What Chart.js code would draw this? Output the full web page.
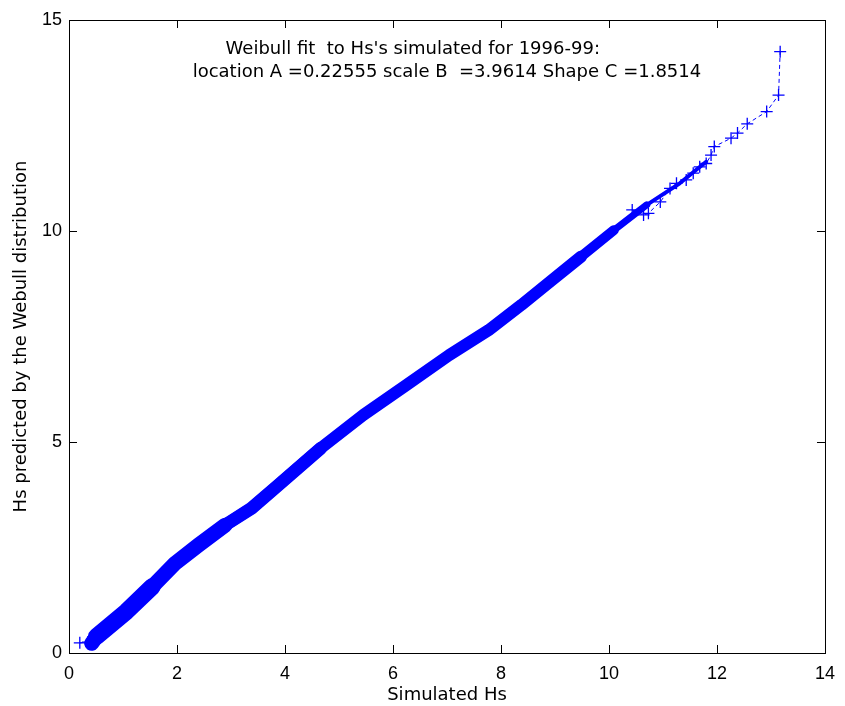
<!DOCTYPE html>
<html>
<head>
<meta charset="utf-8">
<script src="https://cdn.jsdelivr.net/npm/chart.js@4/dist/chart.umd.min.js"></script>
<style>
  body { margin: 0; background: #fff; }
</style>
</head>
<body>
<canvas id="qq" width="845" height="706"></canvas>
<script>
// values
const bandX = [0.42, 0.51, 1.06, 1.54, 1.97, 2.40, 2.89, 3.38, 3.85, 4.66, 5.45, 6.25, 7.04, 7.77, 8.38, 8.87, 9.48, 10.09, 10.70, 11.31, 11.80];
const bandY = [0.23, 0.39, 0.98, 1.57, 2.13, 2.56, 3.03, 3.43, 3.95, 4.85, 5.64, 6.35, 7.06, 7.65, 8.25, 8.76, 9.39, 10.02, 10.62, 11.13, 11.64];
const headX = [0.20, 0.35, 0.90];
const headY = [0.24, 0.26, 0.98];
const tailX = [10.43, 10.64, 10.73, 10.95, 11.13, 11.25, 11.43, 11.56, 11.68, 11.80, 11.89, 11.95, 12.26, 12.38, 12.56, 12.92, 13.14, 13.17];
const tailY = [10.50, 10.38, 10.42, 10.69, 11.01, 11.13, 11.21, 11.37, 11.52, 11.60, 11.80, 12.00, 12.20, 12.32, 12.54, 12.83, 13.22, 14.25];
const xTicks = [0, 2, 4, 6, 8, 10, 12, 14];
const yTicks = [0, 5, 10, 15];
const noteLines = ["Weibull fit  to Hs's simulated for 1996-99:", "location A =0.22555 scale B  =3.9614 Shape C =1.8514"];

const TICKFONT = "'Liberation Sans', Arial, sans-serif";
const FONT = "'DejaVu Sans', sans-serif";
const BLUE = "#0000ff";

function pts(xs, ys, from, to) {
    let out = [];
    xs.forEach(function (v, i) {
        if (v >= from && v <= to) out.push({ x: v, y: ys[i] });
    });
    return out;
}

// the dense part of the curve is drawn as a thick stroke that narrows towards the top
function band(from, to, width) {
    return {
        data: pts(bandX, bandY, from, to),
        showLine: true, borderColor: BLUE, borderWidth: width,
        borderCapStyle: 'round', borderJoinStyle: 'round',
        pointRadius: 0
    };
}

// box, inward ticks and the fit note
const frame = {
    id: 'frame',
    afterDraw(chart) {
        const { ctx, chartArea: a, scales: { x, y } } = chart;
        ctx.save();
        ctx.strokeStyle = "#000";
        ctx.lineWidth = 1;
        ctx.strokeRect(a.left + 0.5, a.top + 0.5, a.width, a.height);
        ctx.beginPath();
        xTicks.forEach(function (t) {
            const p = Math.round(x.getPixelForValue(t)) + 0.5;
            ctx.moveTo(p, a.bottom); ctx.lineTo(p, a.bottom - 8);
            ctx.moveTo(p, a.top); ctx.lineTo(p, a.top + 8);
        });
        yTicks.forEach(function (t) {
            const p = Math.round(y.getPixelForValue(t)) + 0.5;
            ctx.moveTo(a.left, p); ctx.lineTo(a.left + 8, p);
            ctx.moveTo(a.right, p); ctx.lineTo(a.right - 8, p);
        });
        ctx.stroke();

        ctx.fillStyle = "#000";
        ctx.font = "18px " + FONT;
        ctx.textBaseline = "middle";
        ctx.textAlign = "left";
        ctx.fillText(noteLines[0], x.getPixelForValue(2.9), y.getPixelForValue(14.3));
        ctx.fillText(noteLines[1], x.getPixelForValue(2.29), y.getPixelForValue(13.75));
        ctx.restore();
    }
};

let ctx = document.getElementById('qq').getContext('2d');
new Chart(ctx, {
    type: 'scatter',
    data: {
        datasets: [
            band(10.0, 12, 4),
            band(9.4, 10.8, 7),
            band(0.5, 10.1, 10),
            band(0.5, 9.5, 12),
            band(0.5, 4.7, 13),
            band(0.4, 2.9, 15),
            band(0.5, 1.6, 17),
            {
                data: pts(headX, headY, 0, 14),
                showLine: true, borderColor: BLUE, borderWidth: 1, borderDash: [3, 2],
                pointStyle: 'cross', pointRadius: [6, 6, 0], pointBorderWidth: 1.3,
                pointBorderColor: BLUE
            },
            {
                data: pts(tailX, tailY, 0, 14),
                showLine: true, borderColor: BLUE, borderWidth: 1, borderDash: [4, 3],
                pointStyle: 'cross', pointRadius: 6, pointBorderWidth: 1.3,
                pointBorderColor: BLUE
            }
        ]
    },
    options: {
        responsive: false,
        animation: false,
        devicePixelRatio: 1,
        layout: { padding: { top: 20, right: 15, left: 0, bottom: 0 } },
        plugins: { legend: { display: false }, tooltip: { enabled: false } },
        scales: {
            x: {
                type: 'linear', min: 0, max: 14,
                afterBuildTicks: function (s) { s.ticks = xTicks.map(function (v) { return { value: v }; }); },
                afterFit: function (s) { s.height = 53; },
                grid: { display: false, drawTicks: false },
                border: { display: false },
                ticks: { color: "#000", padding: 10, font: { family: TICKFONT, size: 18 } },
                title: { display: true, text: "Simulated Hs", color: "#000", padding: 0, font: { family: FONT, size: 18 } }
            },
            y: {
                type: 'linear', min: 0, max: 15,
                afterBuildTicks: function (s) { s.ticks = yTicks.map(function (v) { return { value: v }; }); },
                afterFit: function (s) { s.width = 69; },
                grid: { display: false, drawTicks: false },
                border: { display: false },
                ticks: { color: "#000", padding: 7, font: { family: TICKFONT, size: 18 } },
                title: { display: true, text: "Hs predicted by the Webull distribution", color: "#000", padding: { top: 11 }, font: { family: FONT, size: 18 } }
            }
        }
    },
    plugins: [frame]
});
</script>
</body>
</html>
